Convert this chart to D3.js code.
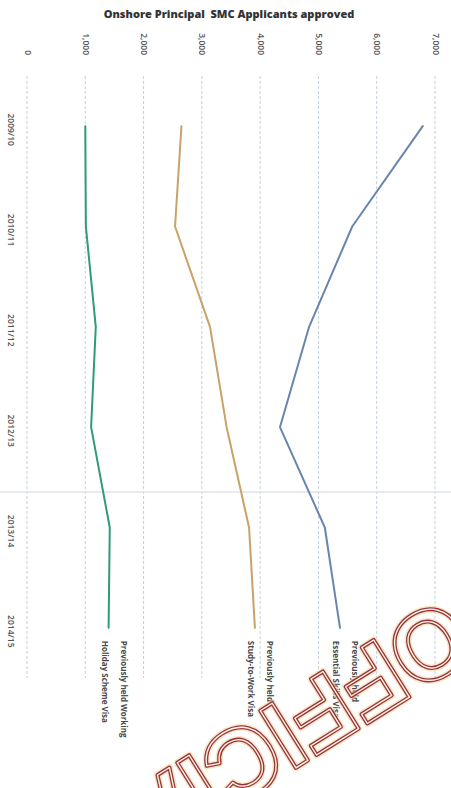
<!DOCTYPE html>
<html>
<head>
<meta charset="utf-8">
<script src="https://cdn.jsdelivr.net/npm/d3@7"></script>
<style>
  html, body { margin: 0; padding: 0; background: #fff; }
  svg { display: block; }
  text { font-family: "Open Sans", "DejaVu Sans", sans-serif; }
</style>
</head>
<body>
<svg id="chart" width="451" height="788"></svg>
<script>
// ---- data ----
const title = "Onshore Principal\u00a0 SMC Applicants approved";
const categories = ["2009/10", "2010/11", "2011/12", "2012/13", "2013/14", "2014/15"];
const essentialSkills = [6790, 5580, 4840, 4340, 5110, 5370];
const studyToWork = [2650, 2540, 3140, 3425, 3810, 3910];
const workingHoliday = [1000, 1010, 1180, 1100, 1420, 1400];
const valueTicks = [0, 1000, 2000, 3000, 4000, 5000, 6000, 7000];
const seriesNames = [
  ["Previously held", "Essential Skills Visa"],
  ["Previously held", "Study-to-Work Visa"],
  ["Previously held Working", "Holiday Scheme Visa"]
];
const seriesColors = ["#6886ad", "#c9a266", "#2f9a7c"];
const stampText = "OFFICIAL";

const series = [essentialSkills, studyToWork, workingHoliday].map((vals, i) => ({
  values: vals, name: seriesNames[i], color: seriesColors[i]
}));

// ---- layout ----
const svg = d3.select("#chart");
const x = d3.scaleLinear().domain([0, 7000]).range([27, 435]);
const y = d3.scalePoint().domain(categories).range([76, 678]).padding(0.5);

// title
svg.append("text")
  .attr("x", 229).attr("y", 18)
  .attr("text-anchor", "middle")
  .attr("font-size", 11).attr("font-weight", 800)
  .attr("fill", "#333")
  .text(title);

// gridlines
svg.append("g").selectAll("line")
  .data(valueTicks).join("line")
  .attr("x1", d => x(d)).attr("x2", d => x(d))
  .attr("y1", 76).attr("y2", 678)
  .attr("stroke", "#c3d0dc").attr("stroke-width", 1)
  .attr("stroke-dasharray", "3,2");

// scan artifact line
svg.append("line")
  .attr("x1", 0).attr("x2", 451).attr("y1", 492).attr("y2", 492)
  .attr("stroke", "#dfe5ea").attr("stroke-width", 1.5);

// value axis (top, rotated labels)
const vAxis = svg.append("g")
  .attr("transform", "translate(0,55)")
  .call(d3.axisTop(x).tickValues(valueTicks).tickSize(0).tickFormat(d3.format(",")));
vAxis.select(".domain").remove();
vAxis.selectAll("text")
  .attr("x", 0).attr("y", 0).attr("dy", "0.35em")
  .attr("transform", "rotate(90)")
  .style("text-anchor", "end")
  .attr("font-size", 8.5).attr("font-weight", 600)
  .attr("fill", "#555")
  .style("font-family", "'Open Sans', sans-serif");

// category axis (left, rotated labels)
const cAxis = svg.append("g")
  .attr("transform", "translate(11,3)")
  .call(d3.axisLeft(y).tickSize(0));
cAxis.select(".domain").remove();
cAxis.selectAll("text")
  .attr("x", 0).attr("y", 0).attr("dy", "0.35em")
  .attr("transform", "rotate(90)")
  .style("text-anchor", "middle")
  .attr("font-size", 8.5).attr("font-weight", 600)
  .attr("fill", "#555")
  .style("font-family", "'Open Sans', sans-serif");

// lines
const line = d3.line()
  .x((d) => x(d.v))
  .y((d) => y(d.c));

svg.append("g").selectAll("path")
  .data(series).join("path")
  .attr("d", s => line(s.values.map((v, i) => ({ v, c: categories[i] }))))
  .attr("fill", "none")
  .attr("stroke", s => s.color)
  .attr("stroke-width", 2)
  .attr("stroke-linejoin", "round")
  .attr("stroke-linecap", "round");

// series labels at the end of each line
const lab = svg.append("g");
series.forEach(s => {
  const last = s.values[s.values.length - 1];
  const px = x(last);
  const py = y(categories[categories.length - 1]) + 13;
  [[s.name[0], 15], [s.name[1], -4]].forEach(([t, off]) => {
    lab.append("text")
      .attr("transform", `translate(${px + off},${py}) rotate(90)`)
      .attr("dy", "0.35em")
      .attr("font-size", 8).attr("font-weight", 700)
      .attr("fill", "#4a4a4a")
      .text(t);
  });
});

// stamp
const stamp = svg.append("g").attr("transform", "translate(444,596) rotate(148)");
stamp.append("text")
  .attr("font-size", 98).attr("font-weight", 700)
  .style("font-family", "'Liberation Sans', 'DejaVu Sans', sans-serif")
  .attr("fill", "none")
  .attr("stroke", "#f3d9a0").attr("stroke-width", 7)
  .attr("stroke-linejoin", "round")
  .attr("opacity", 0.6)
  .text(stampText);
stamp.append("text")
  .attr("font-size", 98).attr("font-weight", 700)
  .style("font-family", "'Liberation Sans', 'DejaVu Sans', sans-serif")
  .attr("fill", "none")
  .attr("stroke", "#8e2030").attr("stroke-width", 4)
  .attr("stroke-linejoin", "round")
  .attr("opacity", 0.9)
  .text(stampText);
stamp.append("text")
  .attr("font-size", 98).attr("font-weight", 700)
  .style("font-family", "'Liberation Sans', 'DejaVu Sans', sans-serif")
  .attr("fill", "none")
  .attr("stroke", "#fff6e8").attr("stroke-width", 1.3)
  .attr("stroke-linejoin", "round")
  .text(stampText);
</script>
</body>
</html>
